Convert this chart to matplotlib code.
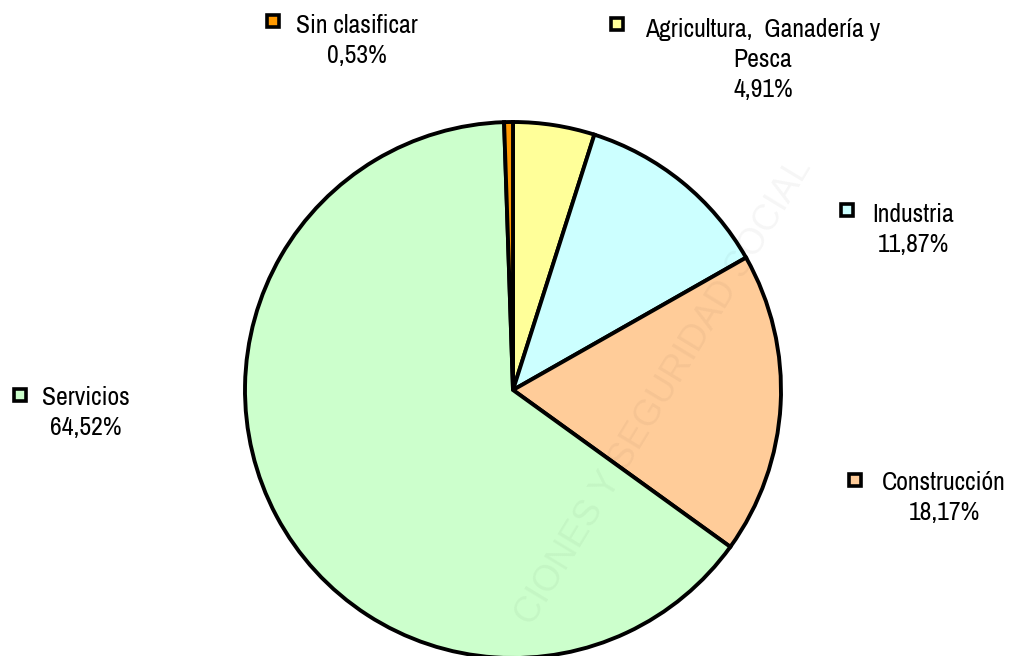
import matplotlib
matplotlib.use("Agg")
import matplotlib.pyplot as plt

# data (clockwise from 12 o'clock)
sectors = ["Agricultura, Ganadería y Pesca", "Industria", "Construcción",
           "Servicios", "Sin clasificar"]
shares = [4.91, 11.87, 18.17, 64.52, 0.53]
label_lines = [["Agricultura,  Ganadería y", "Pesca"],
               ["Industria"],
               ["Construcción"],
               ["Servicios"],
               ["Sin clasificar"]]
colours = ["#FFFF99", "#CCFFFF", "#FFCC99", "#CCFFCC", "#FF9900"]

# layout, in pixels from top-left of the 1011x656 image
W, H = 1011, 656
pie_centre = (513, 390)
pie_radius = 268
text_x = [763, 913, 944, 86, 357]
first_baseline = [37, 222, 490, 405, 33]
square_xy = [(617, 24), (847, 210), (855, 480), (20, 395), (273, 21)]
line_step = 30

plt.rcParams["font.family"] = ["Archivo Narrow", "DejaVu Sans"]

fig = plt.figure(figsize=(W / 100, H / 100), dpi=100)
ax = fig.add_axes([0, 0, 1, 1])

ax.pie(shares, colors=colours, startangle=90, counterclock=False,
       center=(pie_centre[0], H - pie_centre[1]), radius=pie_radius,
       wedgeprops=dict(edgecolor="black", linewidth=2.8, joinstyle="miter"),
       frame=False)

# faint watermark (only its visible tail, as in the source image)
ax.text(812, H - 166, "CIONES Y SEGURIDAD SOCIAL", rotation=58.7,
        rotation_mode="anchor", ha="right", va="baseline", fontsize=26,
        color="#000000", alpha=0.04, family=["Liberation Sans", "DejaVu Sans"])

for i, lines in enumerate(label_lines):
    rows = lines + [f"{shares[i]:.2f}%".replace(".", ",")]
    for j, row in enumerate(rows):
        ax.text(text_x[i], H - (first_baseline[i] + j * line_step), row,
                ha="center", va="baseline", fontsize=18.5, color="black")
    sx, sy = square_xy[i]
    ax.plot(sx, H - sy, marker="s", markersize=8.5, markerfacecolor=colours[i],
            markeredgecolor="black", markeredgewidth=2.6, linestyle="none")

ax.set_xlim(0, W)
ax.set_ylim(0, H)
ax.set_aspect("auto")
ax.axis("off")

fig.savefig("out.png", dpi=100)
